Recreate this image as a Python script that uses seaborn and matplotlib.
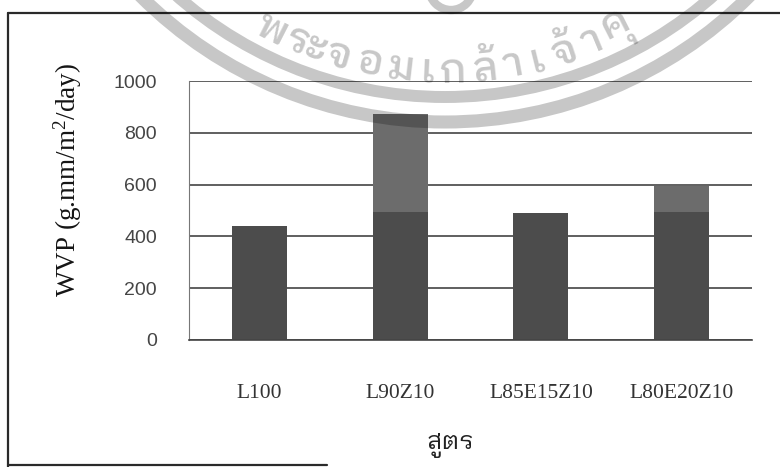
import matplotlib
matplotlib.use("Agg")
import numpy as np
import pandas as pd
import seaborn as sns
import matplotlib.pyplot as plt
from matplotlib import font_manager
from matplotlib.patches import Circle, Rectangle
from matplotlib.lines import Line2D

# ---- data -------------------------------------------------------------
formulas = ["L100", "L90Z10", "L85E15Z10", "L80E20Z10"]
wvp = [442, 873, 490, 595]
y_ticks = [0, 200, 400, 600, 800, 1000]
x_title = "สูตร"
y_title = "WVP (g.mm/m$^{2}$/day)"
seal_clusters = ["พ", "ร", "ะ", "จ", "อ", "ม", "เ", "ก", "ล้", "า", "เ", "จ้", "า", "คุ"]
seal_widths = [30, 20, 16, 28, 28, 30, 18, 28, 30, 22, 22, 30, 22, 30]


def family_with(codepoint, prefer=()):
    """Return an installed family that has a glyph for codepoint, best match first."""
    from fontTools.ttLib import TTFont

    def rank(f):
        for i, p in enumerate(prefer):
            if p in f.name:
                return i
        return len(prefer)

    fonts = sorted(font_manager.fontManager.ttflist, key=lambda f: (rank(f), f.name))
    for f in fonts:
        try:
            cmap = TTFont(f.fname, fontNumber=0, lazy=True).getBestCmap()
        except Exception:
            continue
        if cmap and codepoint in cmap:
            return f.name
    return "DejaVu Sans"


installed = {f.name for f in font_manager.fontManager.ttflist}
thai_family = family_with(0x0E2A, prefer=("Looped", "Serif Thai", "Loma", "Norasi",
                                          "Kinnari", "Garuda", "Thai"))
tick_family = "Liberation Sans Narrow" if "Liberation Sans Narrow" in installed else "Liberation Sans"
serif_family = "Liberation Serif"

sns.set_theme(style="white")
plt.rcParams["font.family"] = [serif_family, "DejaVu Sans"]
plt.rcParams["mathtext.fontset"] = "custom"
plt.rcParams["mathtext.rm"] = serif_family
plt.rcParams["mathtext.it"] = serif_family

W, H = 780, 467
fig = plt.figure(figsize=(W / 100, H / 100), dpi=100, facecolor="white")

ax_left, ax_right, ax_top, ax_bottom = 189, 752, 81, 340
ax = fig.add_axes([ax_left / W, 1 - ax_bottom / H,
                   (ax_right - ax_left) / W, (ax_bottom - ax_top) / H])

df = pd.DataFrame({"formula": formulas, "wvp": wvp})
sns.barplot(data=df, x="formula", y="wvp", color="#4c4c4c", saturation=1,
            width=0.39, linewidth=0, ax=ax, zorder=2)

# lighter upper band of the printed bars
scan_split = 494
for bar in list(ax.patches):
    x0, w, top = bar.get_x(), bar.get_width(), bar.get_height()
    if top > scan_split:
        ax.add_patch(Rectangle((x0, scan_split), w, top - scan_split,
                               facecolor="white", alpha=0.18, linewidth=0, zorder=3))

grid_color = "#444444"
ax.set_ylim(0, 1000)
ax.set_xlim(-0.5, len(formulas) - 0.5)
ax.set_yticks(y_ticks)
ax.set_yticklabels([str(v) for v in y_ticks], family=tick_family, fontsize=14, color="#454545")
ax.yaxis.grid(True, color=grid_color, linewidth=1.2)
ax.set_axisbelow(True)
ax.tick_params(axis="y", length=6, width=0.8, color="#777777", pad=17)

ax.set_xticks(range(len(formulas)))
ax.set_xticklabels(formulas, family=serif_family, fontsize=15.5, color="#333333")
ax.set_xticks(np.arange(-0.5, len(formulas)), minor=True)
ax.tick_params(axis="x", which="major", length=0, pad=32)
ax.tick_params(axis="x", which="minor", length=8, width=0.8, color="#777777", direction="out")

for side in ("top", "right"):
    ax.spines[side].set_visible(False)
ax.spines["left"].set_color("#777777")
ax.spines["left"].set_linewidth(0.8)
ax.spines["bottom"].set_color(grid_color)
ax.spines["bottom"].set_linewidth(1.2)
ax.set_xlabel("")
ax.set_ylabel("")

fig.text(68 / W, 1 - 180 / H, y_title, rotation=90, ha="center", va="center",
         fontsize=19.5, family=serif_family, color="#151515")
fig.text(450 / W, 1 - 446 / H, x_title, ha="center", va="center",
         fontsize=18, family=[thai_family, "DejaVu Sans"], color="#222222")

# chart frame
frame_kw = dict(color="#2a2a2a", linewidth=1.6)
fig.add_artist(Line2D([8 / W, 8 / W], [1 - 13 / H, 0], transform=fig.transFigure, **frame_kw))
fig.add_artist(Line2D([8 / W, 1], [1 - 13 / H, 1 - 13 / H], transform=fig.transFigure, **frame_kw))
fig.add_artist(Line2D([8 / W, 327 / W], [1 - 465 / H, 1 - 465 / H], transform=fig.transFigure, **frame_kw))

# institutional seal stamped over the page
seal = fig.add_axes([0, 0, 1, 1], zorder=5)
seal.set_xlim(0, W)
seal.set_ylim(H, 0)
seal.axis("off")
seal.patch.set_alpha(0)
ink = (0, 0, 0, 0.22)
cx, cy = 445, -309
seal.add_patch(Circle((cx, cy), 406, fill=False, edgecolor=ink, linewidth=8.6))
seal.add_patch(Circle((cx, cy), 431, fill=False, edgecolor=ink, linewidth=9.4))
seal.add_patch(Circle((451, -12), 22, fill=False, edgecolor=ink, linewidth=6))

r_text = 380
centres = np.cumsum(seal_widths) - np.array(seal_widths) / 2
centres = (centres - centres[0]) / (centres[-1] - centres[0])
angles = np.deg2rad(-27.0 + centres * 54.0)
for ch, phi in zip(seal_clusters, angles):
    seal.text(cx + r_text * np.sin(phi), cy + r_text * np.cos(phi), ch,
              rotation=np.rad2deg(phi), rotation_mode="anchor",
              ha="center", va="center", fontsize=30, fontweight="medium", color=ink,
              family=[thai_family, "DejaVu Sans"])

fig.savefig("out.png", dpi=100, facecolor="white")
